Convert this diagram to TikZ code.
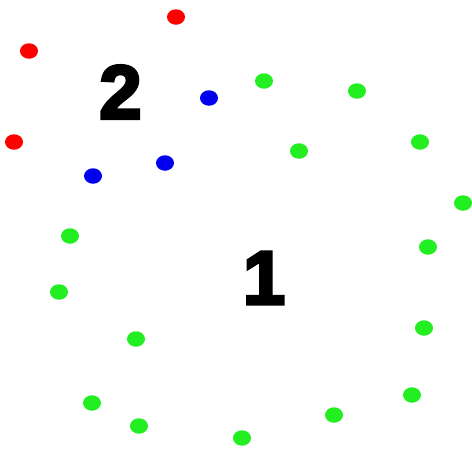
\documentclass[tikz,border=0pt]{standalone}
\usepackage{fontspec}
\newfontfamily\digitfont[FakeBold=4]{Liberation Sans Bold}
\usetikzlibrary{shapes.geometric}
\definecolor{dotred}{HTML}{FF0000}
\definecolor{dotblue}{HTML}{0000EE}
\definecolor{dotgreen}{HTML}{22EE22}

\begin{document}
\begin{tikzpicture}[
    x=1pt, y=-1pt,
    dot/.style={ellipse, inner sep=0pt, minimum width=18pt, minimum height=15.5pt},
    reddot/.style={dot, fill=dotred},
    bluedot/.style={dot, fill=dotblue},
    greendot/.style={dot, fill=dotgreen},
    numlabel/.style={font=\digitfont\fontsize{76}{76}\selectfont, inner sep=0pt}
]
\useasboundingbox (0,0) rectangle (472,450);

% cluster 2
\node[reddot] (r1) at (176,17) {};
\node[reddot] (r2) at (29,51) {};
\node[reddot] (r3) at (14,142) {};
\node[bluedot] (b1) at (209,98) {};
\node[bluedot] (b2) at (165,163) {};
\node[bluedot] (b3) at (93,176) {};

% cluster 1
\node[greendot] (g1) at (264,81) {};
\node[greendot] (g2) at (357,91) {};
\node[greendot] (g3) at (299,151) {};
\node[greendot] (g4) at (420,142) {};
\node[greendot] (g5) at (463,203) {};
\node[greendot] (g6) at (70,236) {};
\node[greendot] (g7) at (428,247) {};
\node[greendot] (g8) at (59,292) {};
\node[greendot] (g9) at (136,339) {};
\node[greendot] (g10) at (424,328) {};
\node[greendot] (g11) at (92,403) {};
\node[greendot] (g12) at (412,395) {};
\node[greendot] (g13) at (139,426) {};
\node[greendot] (g14) at (334,415) {};
\node[greendot] (g15) at (242,438) {};

\node[numlabel] (two) at (120.5,92) {2};
\node[numlabel] (one) at (264,278) {1};
\end{tikzpicture}
\end{document}
